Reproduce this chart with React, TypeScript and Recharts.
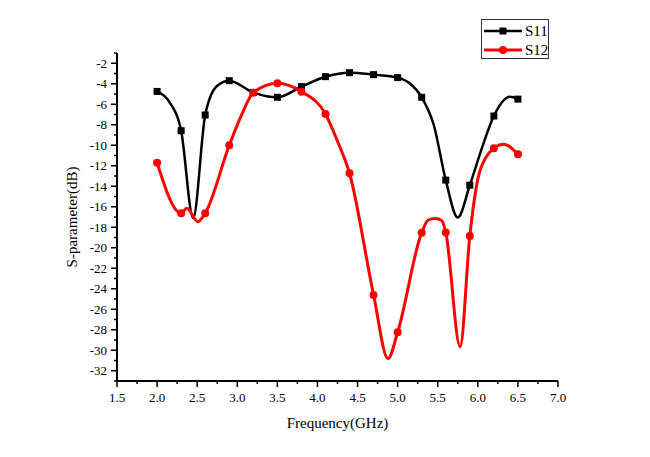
import { LineChart, Line, XAxis, YAxis, Legend, Label } from 'recharts'

const SERIF = "'Liberation Serif', 'Times New Roman', serif"

// frequencies (GHz) and S-parameter values (dB)
const freqS11 = [2.0, 2.15, 2.3, 2.45, 2.6, 2.75, 2.9, 3.2, 3.5, 3.8, 4.1, 4.4, 4.7, 5.0, 5.15, 5.3, 5.45, 5.6, 5.75, 5.9, 6.05, 6.2, 6.4, 6.5]
const s11 = [-4.75, -5.75, -8.58, -17.1, -7.05, -4.2, -3.7, -4.85, -5.32, -4.28, -3.31, -2.92, -3.11, -3.4, -3.95, -5.32, -8.0, -13.4, -17.05, -13.9, -10.3, -7.15, -5.28, -5.5]

const freqS12 = [2.0, 2.3, 2.37, 2.51, 2.6, 2.9, 3.05, 3.2, 3.5, 3.8, 4.1, 4.25, 4.4, 4.7, 4.88, 5.0, 5.3, 5.38, 5.47, 5.55, 5.6, 5.78, 5.9, 6.0, 6.1, 6.2, 6.32, 6.5]
const s12 = [-11.7, -16.63, -16.15, -17.45, -16.63, -10.0, -7.1, -4.87, -3.95, -4.77, -6.95, -9.6, -12.73, -24.6, -30.8, -28.25, -18.53, -17.3, -17.15, -17.35, -18.5, -29.65, -18.85, -13.3, -11.2, -10.3, -9.9, -10.88]

// points that carry a symbol
const markerFreqs = [2.0, 2.3, 2.6, 2.9, 3.2, 3.5, 3.8, 4.1, 4.4, 4.7, 5.0, 5.3, 5.6, 5.9, 6.2, 6.5]

const xTicks = [1.5, 1.75, 2.0, 2.25, 2.5, 2.75, 3.0, 3.25, 3.5, 3.75, 4.0, 4.25, 4.5, 4.75, 5.0, 5.25, 5.5, 5.75, 6.0, 6.25, 6.5, 6.75, 7.0]
const yTicks = [-33, -32, -31, -30, -29, -28, -27, -26, -25, -24, -23, -22, -21, -20, -19, -18, -17, -16, -15, -14, -13, -12, -11, -10, -9, -8, -7, -6, -5, -4, -3, -2, -1]

const s11Data = freqS11.map((f, i) => ({ f, db: s11[i] }))
const s12Data = freqS12.map((f, i) => ({ f, db: s12[i] }))

const isMarker = (f: number) => markerFreqs.some((m) => Math.abs(m - f) < 1e-6)

function SquareDot(props: any) {
  const { cx, cy, payload, index } = props
  if (!isMarker(payload.f)) return <g key={`s11-${index}`} />
  return <rect key={`s11-${index}`} x={cx - 3.5} y={cy - 3.5} width={7} height={7} fill="#000" />
}

function CircleDot(props: any) {
  const { cx, cy, payload, index } = props
  if (!isMarker(payload.f)) return <g key={`s12-${index}`} />
  return <circle key={`s12-${index}`} cx={cx} cy={cy} r={4} fill="#ff0000" />
}

function XTick({ x, y, payload }: any) {
  const v = payload.value
  const major = Math.abs(v * 2 - Math.round(v * 2)) < 1e-6
  return (
    <g>
      <line x1={x} y1={y} x2={x} y2={y + (major ? 6 : 3)} stroke="#000" strokeWidth={1.5} />
      {major && (
        <text x={x} y={y + 21} textAnchor="middle" fontSize={13} fontFamily={SERIF} fill="#000">
          {v.toFixed(1)}
        </text>
      )}
    </g>
  )
}

function YTick({ x, y, payload }: any) {
  const v = payload.value
  const major = v % 2 === 0
  return (
    <g>
      <line x1={x} y1={y} x2={x - (major ? 6 : 3)} y2={y} stroke="#000" strokeWidth={1.5} />
      {major && (
        <text x={x - 10} y={y} dy="0.35em" textAnchor="end" fontSize={13} fontFamily={SERIF} fill="#000">
          {v}
        </text>
      )}
    </g>
  )
}

function renderLegend() {
  const rows = [
    { name: 'S11', color: '#000', shape: 'square' },
    { name: 'S12', color: '#ff0000', shape: 'circle' },
  ]
  return (
    <div style={{ width: 68, height: 40, border: '1px solid #333', boxSizing: 'border-box', background: '#fff' }}>
      <svg width={66} height={38}>
        {rows.map((r, i) => {
          const cy = 11 + i * 19
          return (
            <g key={r.name}>
              <line x1={2} y1={cy} x2={40} y2={cy} stroke={r.color} strokeWidth={i === 0 ? 2.5 : 3} />
              {r.shape === 'square' ? (
                <rect x={17.5} y={cy - 3.5} width={7} height={7} fill={r.color} />
              ) : (
                <circle cx={21} cy={cy} r={4} fill={r.color} />
              )}
              <text x={43} y={cy} dy="0.35em" fontSize={15} fontFamily={SERIF} fill="#000">
                {r.name}
              </text>
            </g>
          )
        })}
      </svg>
    </div>
  )
}

export default function App() {
  return (
    <div style={{ position: 'absolute', left: 0, top: 0, background: '#fff' }}>
      <LineChart width={650} height={457} margin={{ top: 53, right: 92, bottom: 0, left: 0 }}>
        <XAxis
          dataKey="f"
          type="number"
          domain={[1.5, 7]}
          ticks={xTicks}
          interval={0}
          height={76}
          tickSize={0}
          tickMargin={0}
          tickLine={false}
          axisLine={{ stroke: '#000', strokeWidth: 2 }}
          tick={<XTick />}
          allowDuplicatedCategory={false}
        >
          <Label
            content={({ viewBox }: any) => (
              <text
                x={viewBox.x + viewBox.width / 2}
                y={viewBox.y + 47}
                textAnchor="middle"
                fontSize={15}
                fontFamily={SERIF}
                fill="#000"
              >
                Frequency(GHz)
              </text>
            )}
          />
        </XAxis>
        <YAxis
          type="number"
          domain={[-33, -1]}
          ticks={yTicks}
          interval={0}
          width={117}
          tickSize={0}
          tickMargin={0}
          tickLine={false}
          axisLine={{ stroke: '#000', strokeWidth: 2 }}
          tick={<YTick />}
        >
          <Label
            content={({ viewBox }: any) => {
              const cx = viewBox.x + 72
              const cy = viewBox.y + viewBox.height / 2
              return (
                <text
                  x={cx}
                  y={cy}
                  transform={`rotate(-90 ${cx} ${cy})`}
                  textAnchor="middle"
                  dy="0.35em"
                  fontSize={15}
                  fontFamily={SERIF}
                  fill="#000"
                >
                  S-parameter(dB)
                </text>
              )
            }}
          />
        </YAxis>
        <Legend
          layout="vertical"
          align="center"
          verticalAlign="middle"
          content={renderLegend}
          wrapperStyle={{ left: 481, top: 19, width: 68, height: 40 }}
        />
        <Line
          data={s11Data}
          dataKey="db"
          name="S11"
          type="monotone"
          stroke="#000"
          strokeWidth={2.5}
          dot={SquareDot}
          activeDot={false}
          isAnimationActive={false}
        />
        <Line
          data={s12Data}
          dataKey="db"
          name="S12"
          type="monotone"
          stroke="#ff0000"
          strokeWidth={3}
          dot={CircleDot}
          activeDot={false}
          isAnimationActive={false}
        />
      </LineChart>
    </div>
  )
}
